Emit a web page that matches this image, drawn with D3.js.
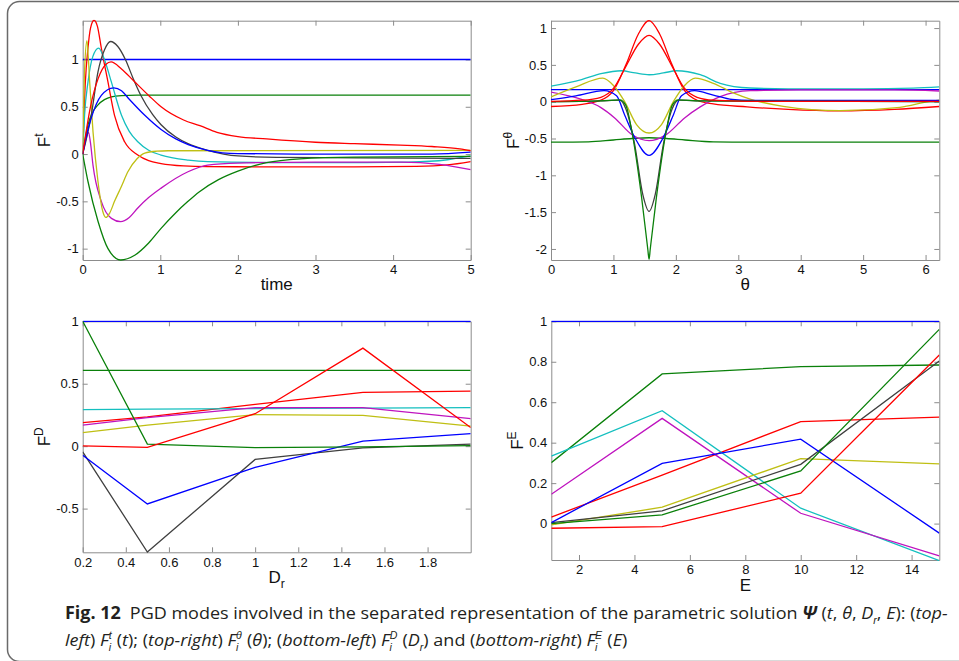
<!DOCTYPE html>
<html>
<head>
<meta charset="utf-8">
<title>PGD modes</title>
<style>
body { margin: 0; background: #fff; }
svg { display: block; font-family: "Liberation Sans", Arial, sans-serif; }
.axis path, .axis line { stroke: #8c8c8c; stroke-width: 1px; }
.axis text { fill: #111; font-size: 13px; font-family: "Liberation Sans", Arial, sans-serif; }
.mode { fill: none; stroke-width: 1.3px; }
.label { font-size: 17px; fill: #111; }
.caption { font-family: "Open Sans", sans-serif; font-size: 17px; fill: #231f20; }
.script { font-family: "Liberation Sans", Arial, sans-serif; font-size: 10px; }
</style>
<script src="https://d3js.org/d3.v7.min.js"></script>
</head>
<body>
<svg id="fig" width="959" height="661"></svg>
<script>
// MATLAB colour order, one colour per PGD mode
var modeColors = ['#0000ff', '#0a800a', '#ff0000', '#14bfbf', '#bf14bf', '#bfbf14', '#404040', '#0000ff', '#0a800a', '#ff0000'];

// F^t(t): [time, value] read along each mode
var ft1 = [[0, 1], [5, 1]];
var ft2 = [[0, 0], [0.03, 0.15], [0.068, 0.31], [0.12, 0.43], [0.197, 0.52], [0.28, 0.575], [0.37, 0.605], [0.5, 0.618], [0.7, 0.623], [5, 0.623]];
var ft3 = [[0, 0], [0.034, 0.76], [0.068, 1.12], [0.1, 1.33], [0.146, 1.415], [0.19, 1.35], [0.24, 1.12], [0.326, 0.76], [0.41, 0.41], [0.54, 0.13], [0.71, -0.01], [0.85, -0.07], [1.01, -0.1], [1.3, -0.125], [1.61, -0.133], [2.5, -0.135], [3.5, -0.135], [4.3, -0.13], [4.7, -0.115], [5, -0.08]];
var ft4 = [[0, 0], [0.024, 0.41], [0.068, 0.76], [0.13, 1.03], [0.206, 1.12], [0.28, 1.0], [0.37, 0.76], [0.5, 0.41], [0.6, 0.24], [0.71, 0.13], [0.85, 0.04], [1.01, -0.01], [1.36, -0.063], [1.61, -0.08], [2.5, -0.09], [3.5, -0.09], [4.2, -0.085], [4.7, -0.06], [5, -0.02]];
var ft5 = [[0, 0], [0.04, 0.15], [0.075, 0.23], [0.1, 0.12], [0.133, -0.12], [0.24, -0.5], [0.37, -0.68], [0.49, -0.715], [0.6, -0.67], [0.71, -0.57], [0.85, -0.46], [1.01, -0.36], [1.357, -0.187], [1.61, -0.116], [2, -0.095], [3, -0.085], [4.1, -0.085], [4.6, -0.11], [5, -0.165]];
var ft6 = [[0, 0], [0.025, 0.9], [0.055, 1.2], [0.07, 1.05], [0.09, 0.76], [0.133, 0.235], [0.197, -0.29], [0.26, -0.61], [0.3, -0.67], [0.35, -0.62], [0.41, -0.5], [0.5, -0.34], [0.58, -0.19], [0.7, -0.05], [0.8, 0.01], [0.95, 0.03], [1.1, 0.035], [5, 0.04]];
var ft7 = [[0, 0], [0.11, 0.41], [0.197, 0.87], [0.28, 1.1], [0.36, 1.19], [0.45, 1.14], [0.55, 1.0], [0.65, 0.8], [0.75, 0.62], [0.9, 0.42], [1.01, 0.31], [1.2, 0.18], [1.357, 0.11], [1.61, 0.04], [2, -0.02], [2.5, -0.035], [3.5, -0.04], [5, -0.045]];
var ft8 = [[0, 0], [0.05, 0.2], [0.11, 0.38], [0.24, 0.62], [0.4, 0.7], [0.5, 0.67], [0.6, 0.58], [0.8, 0.41], [1.01, 0.26], [1.2, 0.16], [1.36, 0.1], [1.61, 0.04], [2, 0.005], [3, 0], [4.5, 0], [5, 0.02]];
var ft9 = [[0, 0], [0.068, -0.29], [0.197, -0.71], [0.326, -1.0], [0.49, -1.12], [0.67, -1.07], [0.85, -0.94], [1.01, -0.785], [1.2, -0.62], [1.357, -0.5], [1.5, -0.4], [1.75, -0.27], [2, -0.18], [2.37, -0.09], [2.8, -0.05], [3.5, -0.032], [5, -0.025]];
var ft10 = [[0, 0], [0.1, 0.5], [0.2, 0.8], [0.3, 0.95], [0.365, 0.975], [0.5, 0.9], [0.65, 0.78], [0.85, 0.62], [1.01, 0.5], [1.3, 0.36], [1.51, 0.3], [1.73, 0.23], [2, 0.185], [2.37, 0.16], [3, 0.125], [3.5, 0.11], [4.09, 0.095], [4.5, 0.08], [4.86, 0.055], [5, 0.035]];

// F^theta(theta)
var fq1 = [[0, 0.163], [6.22, 0.163]];
var fq2 = [[0, -0.55], [0.6, -0.545], [1.0, -0.52], [1.3, -0.5], [1.571, -0.49], [1.85, -0.5], [2.15, -0.52], [2.6, -0.545], [3.2, -0.55], [6.22, -0.55]];
var fq3 = [[0, -0.065], [0.5, -0.035], [0.8, 0.02], [1.0, 0.15], [1.2, 0.5], [1.4, 0.92], [1.571, 1.1], [1.74, 0.92], [1.94, 0.5], [2.14, 0.15], [2.34, 0.02], [2.6, -0.03], [3.14, -0.07], [3.8, -0.105], [4.6, -0.125], [5.5, -0.105], [6.22, -0.065]];
var fq4 = [[0, 0.21], [0.49, 0.3], [0.8, 0.38], [1.13, 0.42], [1.35, 0.39], [1.571, 0.366], [1.8, 0.39], [2.01, 0.42], [2.39, 0.366], [2.71, 0.25], [3.19, 0.186], [3.8, 0.175], [5, 0.175], [5.8, 0.185], [6.22, 0.2]];
var fq5 = [[0, 0.13], [0.49, 0.03], [0.8, -0.08], [1.02, -0.22], [1.3, -0.45], [1.571, -0.53], [1.84, -0.45], [2.14, -0.22], [2.39, -0.07], [2.71, 0.07], [3.19, 0.15], [4, 0.16], [5.5, 0.16], [6.22, 0.145]];
var fq6 = [[0, 0.065], [0.4, 0.2], [0.83, 0.32], [1.0, 0.22], [1.18, 0.0], [1.37, -0.31], [1.571, -0.425], [1.77, -0.31], [1.96, 0.0], [2.14, 0.22], [2.31, 0.32], [2.6, 0.25], [2.92, 0.12], [3.19, 0.036], [3.72, -0.063], [4.63, -0.122], [5.59, -0.077], [6.07, 0.004], [6.22, 0.02]];
var fq7 = [[0, 0], [0.8, 0.01], [1.1, 0.02], [1.2, -0.1], [1.34, -0.58], [1.47, -1.26], [1.571, -1.49], [1.67, -1.26], [1.8, -0.58], [1.94, -0.1], [2.05, 0.02], [2.4, 0.01], [6.22, 0]];
var fq8 = [[0, 0.027], [0.4, 0.08], [0.85, 0.15], [1.05, 0.08], [1.18, -0.18], [1.35, -0.5], [1.571, -0.73], [1.79, -0.5], [1.96, -0.18], [2.09, 0.08], [2.3, 0.15], [2.6, 0.09], [2.9, 0.03], [3.2, 0.018], [6.22, 0.018]];
var fq9 = [[0, 0], [0.8, 0.01], [1.1, 0.025], [1.2, -0.05], [1.29, -0.38], [1.45, -1.29], [1.55, -2.0], [1.571, -2.14], [1.59, -2.0], [1.69, -1.29], [1.85, -0.38], [1.94, -0.05], [2.04, 0.025], [2.4, 0.01], [6.22, 0]];
var fq10 = [[0, 0.005], [0.5, 0.02], [0.8, 0.06], [1.0, 0.18], [1.2, 0.48], [1.4, 0.78], [1.571, 0.9], [1.74, 0.78], [1.94, 0.48], [2.14, 0.18], [2.34, 0.06], [2.6, 0.02], [3.14, 0.005], [6.22, 0.005]];

// F^D(D_r), sampled at these D_r
var drValues = [0.2, 0.5, 1, 1.5, 2];
var fd1 = [1, 1, 1, 1, 1];
var fd2 = [0.607, 0.607, 0.607, 0.607, 0.607];
var fd3 = [0.189, 0.234, 0.335, 0.431, 0.441];
var fd4 = [0.293, 0.296, 0.3, 0.305, 0.309];
var fd5 = [0.168, 0.229, 0.309, 0.309, 0.221];
var fd6 = [0.109, 0.168, 0.253, 0.247, 0.16];
var fd7 = [-0.045, -0.848, -0.106, -0.013, 0.016];
var fd8 = [-0.072, -0.463, -0.17, 0.04, 0.101];
var fd9 = [1.0, 0.016, -0.011, -0.005, 0.005];
var fd10 = [0.003, -0.01, 0.26, 0.785, 0.149];

// F^E(E), sampled at these E
var eValues = [1, 5, 10, 15];
var fe1 = [1, 1, 1, 1];
var fe2 = [0.301, 0.74, 0.776, 0.784];
var fe3 = [0.032, 0.24, 0.504, 0.526];
var fe4 = [0.334, 0.558, 0.076, -0.183];
var fe5 = [0.145, 0.52, 0.051, -0.16];
var fe6 = [-0.006, 0.081, 0.321, 0.295];
var fe7 = [0.005, 0.063, 0.293, 0.804];
var fe8 = [0.005, 0.298, 0.417, -0.047];
var fe9 = [0, 0.043, 0.26, 0.96];
var fe10 = [-0.023, -0.015, 0.15, 0.833];

// tick labels
var tTicks = [0, 1, 2, 3, 4, 5];
var ftTicks = [-1, -0.5, 0, 0.5, 1];
var qTicks = [0, 1, 2, 3, 4, 5, 6];
var fqTicks = [-2, -1.5, -1, -0.5, 0, 0.5, 1];
var drTicks = [0.2, 0.4, 0.6, 0.8, 1, 1.2, 1.4, 1.6, 1.8];
var fdTicks = [-0.5, 0, 0.5, 1];
var eTicks = [2, 4, 6, 8, 10, 12, 14];
var feTicks = [0, 0.2, 0.4, 0.6, 0.8, 1];

var svg = d3.select('#fig');

// figure frame
svg.append('rect')
	.attr('x', 7.5).attr('y', 1.5)
	.attr('width', 1000).attr('height', 660)
	.attr('rx', 12)
	.attr('fill', 'none').attr('stroke', '#6a6a6a').attr('stroke-width', 1.5);

function fmt (d) { return String(+d.toFixed(2)); }

function drawPanel (cfg) {
	var g = svg.append('g'),
		x = d3.scaleLinear().domain(cfg.xDomain).range([cfg.left, cfg.right]),
		y = d3.scaleLinear().domain(cfg.yDomain).range([cfg.bottom, cfg.top]);

	g.append('g').attr('class', 'axis')
		.attr('transform', 'translate(0,' + cfg.bottom + ')')
		.call(d3.axisBottom(x).tickValues(cfg.xTicks).tickFormat(fmt).tickSizeInner(-5).tickSizeOuter(0).tickPadding(5));
	g.append('g').attr('class', 'axis')
		.attr('transform', 'translate(0,' + cfg.top + ')')
		.call(d3.axisTop(x).tickValues(cfg.xTicks).tickFormat('').tickSizeInner(-5).tickSizeOuter(0));
	g.append('g').attr('class', 'axis')
		.attr('transform', 'translate(' + cfg.left + ',0)')
		.call(d3.axisLeft(y).tickValues(cfg.yTicks).tickFormat(fmt).tickSizeInner(-5).tickSizeOuter(0).tickPadding(4));
	g.append('g').attr('class', 'axis')
		.attr('transform', 'translate(' + cfg.right + ',0)')
		.call(d3.axisRight(y).tickValues(cfg.yTicks).tickFormat('').tickSizeInner(-5).tickSizeOuter(0));

	var clipId = 'clip-' + cfg.name;
	svg.append('clipPath').attr('id', clipId)
		.append('rect')
		.attr('x', cfg.left).attr('y', cfg.top - 1)
		.attr('width', cfg.right - cfg.left).attr('height', cfg.bottom - cfg.top + 2);

	var line = d3.line()
		.x(function (d) { return x(d[0]); })
		.y(function (d) { return y(d[1]); })
		.curve(cfg.curve);

	g.append('g').attr('clip-path', 'url(#' + clipId + ')')
		.selectAll('path')
		.data(cfg.modes)
		.join('path')
		.attr('class', 'mode')
		.attr('stroke', function (d, i) { return modeColors[i]; })
		.attr('d', line);

	// x label
	var xl = g.append('text').attr('class', 'label')
		.attr('x', (cfg.left + cfg.right) / 2).attr('y', cfg.xLabelY)
		.attr('text-anchor', 'middle');
	xl.append('tspan').text(cfg.xLabel);
	if (cfg.xSub) xl.append('tspan').attr('dy', 5).attr('font-size', 12).text(cfg.xSub);

	// y label, F with a superscript
	var yl = g.append('text').attr('class', 'label')
		.attr('transform', 'translate(' + cfg.yLabelX + ',' + (cfg.top + cfg.bottom) / 2 + ') rotate(-90)')
		.attr('text-anchor', 'middle');
	yl.append('tspan').text('F');
	yl.append('tspan').attr('dy', -7).attr('font-size', 12).text(cfg.ySup);
}

function pairs (xs, ys) { return d3.zip(xs, ys); }

drawPanel({
	name: 'time', left: 82.7, right: 470.7, top: 20.7, bottom: 260,
	xDomain: [0, 5], yDomain: [-1.12, 1.41], xTicks: tTicks, yTicks: ftTicks,
	xLabel: 'time', xLabelY: 290, yLabelX: 50, ySup: 't',
	curve: d3.curveMonotoneX,
	modes: [ft1, ft2, ft3, ft4, ft5, ft6, ft7, ft8, ft9, ft10]
});

drawPanel({
	name: 'theta', left: 551, right: 939.3, top: 20.7, bottom: 260,
	xDomain: [0, 6.22], yDomain: [-2.15, 1.1], xTicks: qTicks, yTicks: fqTicks,
	xLabel: 'θ', xLabelY: 290, yLabelX: 519, ySup: 'θ',
	curve: d3.curveMonotoneX,
	modes: [fq1, fq2, fq3, fq4, fq5, fq6, fq7, fq8, fq9, fq10]
});

drawPanel({
	name: 'dr', left: 82.7, right: 470.7, top: 321.3, bottom: 552.3,
	xDomain: [0.2, 2], yDomain: [-0.85, 1], xTicks: drTicks, yTicks: fdTicks,
	xLabel: 'D', xSub: 'r', xLabelY: 583, yLabelX: 50, ySup: 'D',
	curve: d3.curveLinear,
	modes: [fd1, fd2, fd3, fd4, fd5, fd6, fd7, fd8, fd9, fd10].map(function (v) { return pairs(drValues, v); })
});

drawPanel({
	name: 'e', left: 551.3, right: 939.3, top: 321.3, bottom: 560,
	xDomain: [1, 15], yDomain: [-0.18, 1], xTicks: eTicks, yTicks: feTicks,
	xLabel: 'E', xLabelY: 591, yLabelX: 523, ySup: 'E',
	curve: d3.curveLinear,
	modes: [fe1, fe2, fe3, fe4, fe5, fe6, fe7, fe8, fe9, fe10].map(function (v) { return pairs(eValues, v); })
});

// caption
var captionLine1 = [
	{s: 'Fig. 12', b: 1}, {s: ' PGD modes involved in the separated representation of the parametric solution ', dx: 4},
	{s: 'Ψ', b: 1, i: 1}, {s: ' ('}, {s: 't', i: 1}, {s: ', '}, {s: 'θ', i: 1}, {s: ', '}, {s: 'D', i: 1}, {s: 'r', i: 1, sub: 1},
	{s: ', '}, {s: 'E', i: 1}, {s: '): ('}, {s: 'top-', i: 1}
];
var captionLine2 = [
	{s: 'left', i: 1}, {s: ') '}, {s: 'F', i: 1}, {s: 't', i: 1, sup: 1}, {s: 'i', i: 1, sub: 1, back: 1}, {s: ' ('}, {s: 't', i: 1}, {s: '); ('},
	{s: 'top-right', i: 1}, {s: ') '}, {s: 'F', i: 1}, {s: 'θ', i: 1, sup: 1}, {s: 'i', i: 1, sub: 1, back: 1}, {s: ' ('}, {s: 'θ', i: 1}, {s: '); ('},
	{s: 'bottom-left', i: 1}, {s: ') '}, {s: 'F', i: 1}, {s: 'D', i: 1, sup: 1}, {s: 'i', i: 1, sub: 1, back: 1}, {s: ' ('}, {s: 'D', i: 1}, {s: 'r', i: 1, sub: 1}, {s: ') and ('},
	{s: 'bottom-right', i: 1}, {s: ') '}, {s: 'F', i: 1}, {s: 'E', i: 1, sup: 1}, {s: 'i', i: 1, sub: 1, back: 1}, {s: ' ('}, {s: 'E', i: 1}, {s: ')'}
];

var cap = svg.append('g');

function addRuns (text, runs) {
	var shift = 0, lastLen = 0, pending = 0;
	runs.forEach(function (r) {
		var t = text.append('tspan').text(r.s),
			target = r.sup ? -7 : (r.sub ? 5 : 0);
		if (target !== shift) t.attr('dy', target - shift);
		shift = target;
		if (r.sup || r.sub) t.attr('class', 'script');
		if (r.i) t.attr('font-style', 'italic');
		if (r.b) t.attr('font-weight', 'bold');
		if (r.back) t.attr('dx', -lastLen);
		else if (pending > 0) t.attr('dx', pending + (r.dx || 0));
		else if (r.dx) t.attr('dx', r.dx);
		var len = t.node().getComputedTextLength();
		// stacked scripts: continue after the wider of the two
		pending = r.back ? Math.max(0, lastLen - len) + 0.5 : 0;
		lastLen = len;
	});
}

var l1 = cap.append('text').attr('class', 'caption').attr('x', 0).attr('y', 619).attr('xml:space', 'preserve');
addRuns(l1, captionLine1);
var l2 = cap.append('text').attr('class', 'caption').attr('x', 0).attr('y', 646).attr('xml:space', 'preserve');
addRuns(l2, captionLine2);

var w1 = l1.node().getBBox().width;
cap.attr('transform', 'translate(65,0) scale(' + (883 / w1) + ',1)');
</script>
</body>
</html>
